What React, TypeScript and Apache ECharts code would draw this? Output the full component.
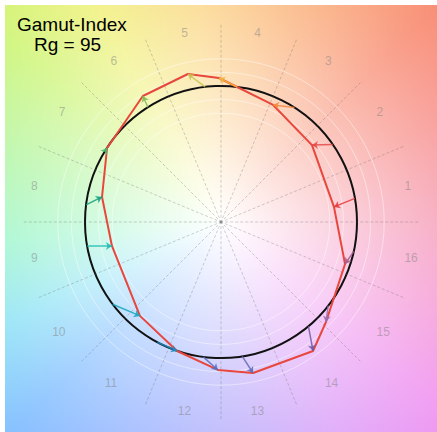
import React, { useEffect, useRef } from 'react';
import * as echarts from 'echarts';

// ---- data ----
const hueBins = ['1', '2', '3', '4', '5', '6', '7', '8', '9', '10', '11', '12', '13', '14', '15', '16'];
// test-source chroma (normalised to reference = 1) and hue angle (deg) per bin
const testChroma = [0.838, 0.876, 0.942, 1.059, 1.115, 1.09, 0.999, 0.894, 0.821, 0.912, 1.002, 1.088, 1.135, 1.165, 1.066, 0.963];
const testHue = [7.6, 40.2, 66.0, 90.8, 102.6, 121.8, 147.0, 168.1, 192.4, 229.2, 251.2, 268.8, 282.0, 305.5, 316.4, 341.3];
// reference-source hue angle (deg) per bin, chroma = 1
const refHue = [10, 34.7, 57.3, 83.2, 96.7, 122.5, 148.6, 172.8, 190.2, 217.2, 242.1, 262.5, 279, 310, 322, 347.5];
const binColors = ['#e23a3a', '#e54a4a', '#f28a3c', '#f4b43a', '#c4c44a', '#7ebc56', '#3fbc70', '#12a07e', '#1fbcb0', '#17a6c0', '#1c8cc6', '#5a6ec0', '#5e6cb6', '#6f5b9e', '#9470b0', '#a75a8c'];
const gamutIndex = 95;

// ---- layout / style ----
const CX = 221;
const CY = 222;
const UNIT = 136;
const OUTER = 1.45;
const FONT = '"Liberation Sans", Arial, sans-serif';

const hueStops: [number, number[]][] = [
  [0, [245, 150, 178]],
  [25, [247, 140, 135]],
  [45, [248, 140, 115]],
  [70, [250, 172, 115]],
  [95, [251, 210, 125]],
  [120, [240, 240, 120]],
  [140, [205, 245, 120]],
  [165, [170, 245, 160]],
  [185, [150, 245, 200]],
  [205, [135, 225, 245]],
  [225, [130, 190, 255]],
  [250, [150, 175, 255]],
  [275, [180, 165, 250]],
  [300, [220, 155, 248]],
  [320, [240, 150, 240]],
  [340, [245, 150, 210]],
  [360, [245, 150, 178]],
];

function hueColor(phi: number): number[] {
  for (let i = 0; i < hueStops.length - 1; i++) {
    const [a0, c0] = hueStops[i];
    const [a1, c1] = hueStops[i + 1];
    if (phi >= a0 && phi <= a1) {
      const t = (phi - a0) / (a1 - a0);
      return [0, 1, 2].map((k) => c0[k] + (c1[k] - c0[k]) * t);
    }
  }
  return hueStops[0][1];
}

function makeBackground(): string {
  const ox = 5, oy = 5, w = 432, h = 427;
  const canvas = document.createElement('canvas');
  canvas.width = w;
  canvas.height = h;
  const ctx = canvas.getContext('2d');
  if (!ctx) return '';
  const img = ctx.createImageData(w, h);
  for (let y = 0; y < h; y++) {
    for (let x = 0; x < w; x++) {
      const dx = x + ox - CX;
      const dy = CY - (y + oy);
      let phi = (Math.atan2(dy, dx) * 180) / Math.PI;
      if (phi < 0) phi += 360;
      const r = Math.sqrt(dx * dx + dy * dy);
      const c = hueColor(phi);
      const wf = Math.pow(Math.max(0, 1 - r / 320), 1.2);
      const idx = (y * w + x) * 4;
      img.data[idx] = c[0] * (1 - wf) + 255 * wf;
      img.data[idx + 1] = c[1] * (1 - wf) + 255 * wf;
      img.data[idx + 2] = c[2] * (1 - wf) + 255 * wf;
      img.data[idx + 3] = 255;
    }
  }
  ctx.putImageData(img, 0, 0);
  return canvas.toDataURL();
}

const rad = (d: number) => (d * Math.PI) / 180;

export default function App() {
  const ref = useRef<HTMLDivElement>(null);
  useEffect(() => {
    if (!ref.current) return;
    const chart = echarts.init(ref.current, undefined, { renderer: 'svg' });
    const bg = makeBackground();

    const polygon = testChroma.map((r, i) => [r * Math.cos(rad(testHue[i])), r * Math.sin(rad(testHue[i]))]);
    polygon.push(polygon[0]);

    const arrows = testChroma.map((r, i) => ({
      coords: [
        [Math.cos(rad(refHue[i])), Math.sin(rad(refHue[i]))],
        [r * Math.cos(rad(testHue[i])), r * Math.sin(rad(testHue[i]))],
      ],
      lineStyle: { color: binColors[i] },
      itemStyle: { color: binColors[i] },
    }));

    const ringColors: string[] = [];
    for (let i = 0; i < 20; i++) {
      ringColors.push([8, 9, 11, 12].includes(i) ? 'rgba(255,255,255,0.45)' : 'rgba(0,0,0,0)');
    }

    chart.setOption({
      animation: false,
      graphic: [
        { type: 'image', x: 5, y: 5, z: -10, silent: true, style: { image: bg, width: 432, height: 427 } },
        {
          type: 'text', x: 17, y: 24, z: 100,
          style: { text: 'Gamut-Index', font: `19px ${FONT}`, fill: '#000', textAlign: 'left', textVerticalAlign: 'middle' },
        },
        {
          type: 'text', x: 34, y: 44.5, z: 100,
          style: { text: `Rg = ${gamutIndex}`, font: `19px ${FONT}`, fill: '#000', textAlign: 'left', textVerticalAlign: 'middle' },
        },
      ],
      polar: [
        { center: [CX, CY], radius: OUTER * UNIT },
        { center: [CX, CY], radius: 187 },
      ],
      angleAxis: [
        {
          polarIndex: 0, type: 'value', min: 0, max: 360, interval: 22.5, startAngle: 0, clockwise: false,
          axisLine: { show: false }, axisTick: { show: false }, axisLabel: { show: false },
          splitLine: { show: true, lineStyle: { color: 'rgba(100,100,100,0.3)', width: 1, type: [3, 2] } },
        },
        {
          polarIndex: 1, type: 'category', data: hueBins, boundaryGap: true, startAngle: 0, clockwise: false,
          axisLine: { show: false }, axisTick: { show: false }, splitLine: { show: false },
          axisLabel: { interval: 0, margin: 0, color: 'rgba(130,130,130,0.5)', fontSize: 12, fontFamily: FONT },
        },
      ],
      radiusAxis: [
        {
          polarIndex: 0, type: 'value', min: 0, max: OUTER, interval: 0.1,
          axisLine: { show: false }, axisTick: { show: false }, axisLabel: { show: false },
          splitLine: { show: true, lineStyle: { color: ringColors, width: 1 } },
        },
        {
          polarIndex: 1, type: 'value', min: 0, max: 187 / UNIT, interval: 1,
          axisLine: { show: false }, axisTick: { show: false }, axisLabel: { show: false },
          splitLine: { show: true, lineStyle: { color: ['rgba(0,0,0,0)', '#111', 'rgba(0,0,0,0)', 'rgba(0,0,0,0)'], width: 2 } },
        },
      ],
      grid: {
        left: CX - OUTER * UNIT,
        top: CY - OUTER * UNIT,
        width: 2 * OUTER * UNIT,
        height: 2 * OUTER * UNIT,
      },
      xAxis: { type: 'value', min: -OUTER, max: OUTER, show: false },
      yAxis: { type: 'value', min: -OUTER, max: OUTER, show: false },
      series: [
        {
          type: 'line',
          data: polygon,
          symbol: 'none',
          lineStyle: { color: '#e8473d', width: 2 },
          z: 3,
        },
        {
          type: 'lines',
          coordinateSystem: 'cartesian2d',
          symbol: ['none', 'arrow'],
          symbolSize: 6,
          lineStyle: { width: 1.5, opacity: 0.85 },
          data: arrows,
          z: 4,
        },
      ],
    });
    return () => chart.dispose();
  }, []);
  return <div ref={ref} style={{ position: 'absolute', left: 0, top: 0, width: 437, height: 432 }} />;
}
